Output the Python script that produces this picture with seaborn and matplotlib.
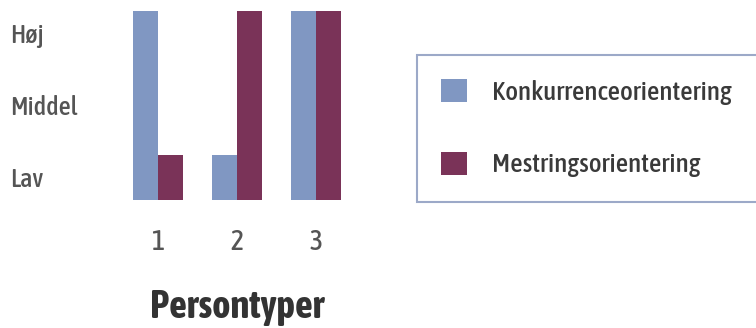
import numpy as np
import pandas as pd
import matplotlib
matplotlib.use("Agg")
import matplotlib.pyplot as plt
from matplotlib import font_manager as fm
import seaborn as sns

# Data: goal orientation level per person type (1 = Lav, 2 = Middel, 3 = Høj)
persontyper = ["1", "2", "3"]
konkurrence = [3, 1, 3]
mestring = [1, 3, 3]
level_labels = ["Lav", "Middel", "Høj"]
level_values = [1, 2, 3]
series_names = ["Konkurrenceorientering", "Mestringsorientering"]

sns.set_theme(style="white")

# narrow sans face for all text
names = {f.name for f in fm.fontManager.ttflist}
family = next((n for n in ["Asap Condensed", "Barlow Condensed", "Archivo Narrow"] if n in names),
              "DejaVu Sans")
plt.rcParams["font.family"] = [family, "DejaVu Sans"]

df = pd.DataFrame({
    "Persontype": persontyper * 2,
    "Niveau": konkurrence + mestring,
    "Orientering": [series_names[0]] * 3 + [series_names[1]] * 3,
})

colors = ["#8097c2", "#7a3358"]
text_grey = "#555555"

fig = plt.figure(figsize=(7.56, 3.28), dpi=100)
ax = fig.add_axes([118.5 / 756, 1 - 200 / 328, 237 / 756, 189 / 328])

sns.barplot(data=df, x="Persontype", y="Niveau", hue="Orientering",
            palette=colors, width=0.64, saturation=1, linewidth=0,
            ax=ax, legend=True)

ax.set_ylim(0.375, 3.0)
ax.set_xlim(-0.5, 2.5)
for s in ax.spines.values():
    s.set_visible(False)

ax.set_yticks(np.array(level_values) - 0.3)
ax.set_yticklabels(level_labels, fontweight="medium")
ax.tick_params(axis="y", length=0, pad=78, labelsize=19, labelcolor=text_grey)
for t in ax.get_yticklabels():
    t.set_horizontalalignment("left")
ax.tick_params(axis="x", length=0, pad=21, labelsize=20, labelcolor=text_grey)
for t in ax.get_xticklabels():
    t.set_fontweight("medium")
ax.set_ylabel("")
ax.set_xlabel("Persontyper", fontsize=28, fontweight="bold", color="#333333",
              labelpad=23)

leg = ax.legend(
    loc="upper left",
    bbox_to_anchor=(417 / 756, 1 - 58 / 328, 0.6, 0.01),
    bbox_transform=fig.transFigure,
    mode="expand",
    prop={"size": 19.5, "weight": "medium"},
    frameon=True,
    fancybox=False,
    borderpad=0.9,
    labelspacing=1.72,
    handlelength=0.93,
    handleheight=0.93,
    handletextpad=0.93,
    borderaxespad=0,
)
frame = leg.get_frame()
frame.set_edgecolor("#8494bb")
frame.set_linewidth(1.5)
for t in leg.get_texts():
    t.set_color("#3a3a3a")

fig.savefig("out.png", dpi=100)
